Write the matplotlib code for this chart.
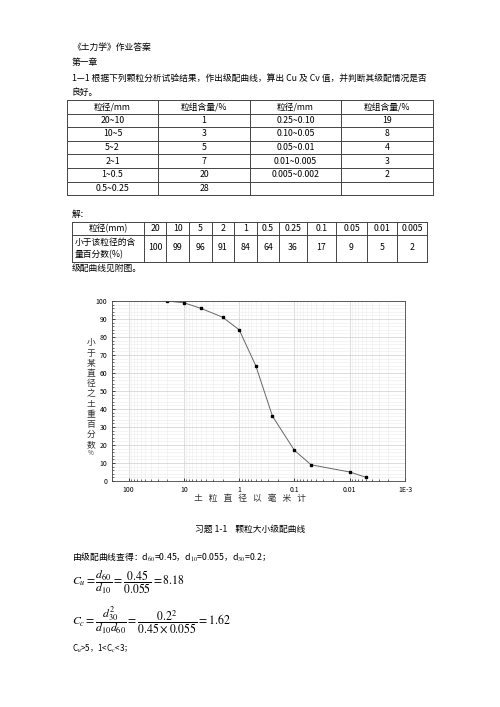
import matplotlib
matplotlib.use("Agg")
import matplotlib.pyplot as plt
import matplotlib.ticker as mticker

plt.rcParams['font.family'] = ['Noto Sans CJK SC', 'DejaVu Sans']
plt.rcParams['mathtext.fontset'] = 'stix'

# ---- data ----
t1_head = ["粒径/mm", "粒组含量/%", "粒径/mm", "粒组含量/%"]
t1_size_a = ["20~10", "10~5", "5~2", "2~1", "1~0.5", "0.5~0.25"]
t1_pct_a = ["1", "3", "5", "7", "20", "28"]
t1_size_b = ["0.25~0.10", "0.10~0.05", "0.05~0.01", "0.01~0.005", "0.005~0.002", ""]
t1_pct_b = ["19", "8", "4", "3", "2", ""]

diam = [20, 10, 5, 2, 1, 0.5, 0.25, 0.1, 0.05, 0.01, 0.005]
finer = [100, 99, 96, 91, 84, 64, 36, 17, 9, 5, 2]

W, H = 500, 707
fig = plt.figure(figsize=(5, 7.07), dpi=100)
page = fig.add_axes([0, 0, 1, 1])
page.set_xlim(0, W)
page.set_ylim(H, 0)
page.axis("off")

FS = 6.3
def txt(x, y, s, **kw):
    kw.setdefault("fontsize", FS)
    kw.setdefault("va", "center")
    page.text(x, y, s, **kw)

txt(72, 47, "《土力学》作业答案")
txt(72, 62, "第一章")
txt(72, 78, "1—1 根据下列颗粒分析试验结果，作出级配曲线，算出 Cu 及 Cv 值，并判断其级配情况是否")
txt(72, 92, "良好。")

# ---- table 1 ----
xs1 = [67, 158, 250, 341, 433]
y0, rh = 100, 13.6
rows = [t1_head] + [list(r) for r in zip(t1_size_a, t1_pct_a, t1_size_b, t1_pct_b)]
for i in range(len(rows) + 1):
    page.plot([xs1[0], xs1[-1]], [y0 + i * rh] * 2, color="#444", lw=0.7)
for x in xs1:
    page.plot([x, x], [y0, y0 + len(rows) * rh], color="#444", lw=0.7)
for i, r in enumerate(rows):
    for j, s in enumerate(r):
        txt((xs1[j] + xs1[j + 1]) / 2, y0 + (i + 0.5) * rh, s, ha="center")

# ---- table 2 ----
txt(72, 214, "解：")
xs2 = [72, 144, 166, 189, 212, 234, 257, 279, 307, 336, 367, 397, 427]
ys2 = [222, 234.5, 261.5]
for y in ys2:
    page.plot([xs2[0], xs2[-1]], [y, y], color="#444", lw=0.7)
for x in xs2:
    page.plot([x, x], [ys2[0], ys2[-1]], color="#444", lw=0.7)
txt(108, 228.5, "粒径(mm)", ha="center")
txt(75, 242, "小于该粒径的含", ha="left")
txt(75, 255, "量百分数(%)", ha="left")
for j, (d, p) in enumerate(zip(diam, finer)):
    cx = (xs2[j + 1] + xs2[j + 2]) / 2
    txt(cx, 228.5, f"{d:g}", ha="center")
    txt(cx, 248, str(p), ha="center")
txt(72, 268, "级配曲线见附图。")

# ---- chart ----
ax = fig.add_axes([112 / W, 1 - 481 / H, (405 - 112) / W, (481 - 301) / H])
ax.plot(diam, finer, color="#666", lw=0.7, marker="s", ms=2, mfc="black", mec="black")
ax.set_xscale("log")
ax.set_xlim(200, 0.001)
ax.set_ylim(0, 100)
ax.set_xticks([100, 10, 1, 0.1, 0.01, 0.001])
ax.set_xticklabels(["100", "10", "1", "0.1", "0.01", "1E-3"])
ax.xaxis.set_minor_locator(mticker.LogLocator(subs=range(2, 10)))
ax.xaxis.set_minor_formatter(mticker.NullFormatter())
ax.set_yticks(range(0, 101, 10))
ax.yaxis.set_minor_locator(mticker.MultipleLocator(2))
ax.grid(which="major", color="#cfcfcf", lw=0.5)
ax.grid(which="minor", color="#ececec", lw=0.4)
ax.tick_params(labelsize=5, length=2, width=0.5, direction="in")
ax.tick_params(which="minor", length=1.2, width=0.4, direction="in")
for s in ax.spines.values():
    s.set_linewidth(0.6)
    s.set_color("#444")

ylab = "小于某直径之土重百分数"
for k, ch in enumerate(ylab):
    txt(91, 343 + k * 10.2, ch, ha="center", color="#333")
txt(91, 453, "%", ha="center", fontsize=4.5, color="#333")
txt(250, 498, "土   粒   直   径   以   毫   米   计", ha="center", color="#333")

txt(250, 529, "习题 1-1    颗粒大小级配曲线", ha="center")

# ---- formulas ----
txt(72, 557, r"由级配曲线查得：d$_{60}$=0.45，d$_{10}$=0.055，d$_{30}$=0.2；")
txt(72, 582, r"$C_u=\dfrac{d_{60}}{d_{10}}=\dfrac{0.45}{0.055}=8.18$", fontsize=8.5)
txt(72, 620, r"$C_c=\dfrac{d_{30}^2}{d_{10}d_{60}}=\dfrac{0.2^2}{0.45\times0.055}=1.62$", fontsize=8.5)
txt(72, 649, r"C$_u$>5，1<C$_c$<3；", fontsize=5.8)

fig.savefig("out.png", dpi=100)
